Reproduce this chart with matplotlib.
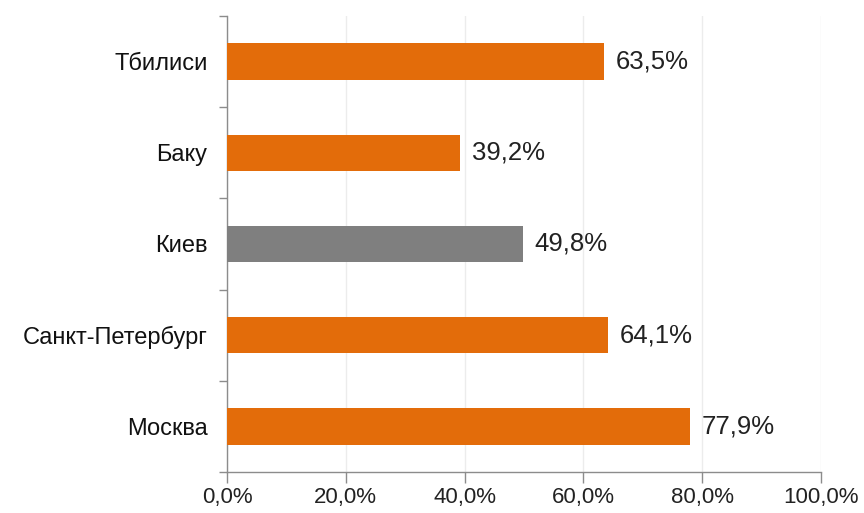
import matplotlib.pyplot as plt
from matplotlib.ticker import FixedLocator

plt.rcParams['font.family'] = ['Liberation Sans', 'DejaVu Sans']

cities = ["Москва", "Санкт-Петербург", "Киев", "Баку", "Тбилиси"]
shares = [77.9, 64.1, 49.8, 39.2, 63.5]
colors = ["#E36C0A", "#E36C0A", "#7F7F7F", "#E36C0A", "#E36C0A"]
xticks = [0, 20, 40, 60, 80, 100]

fig = plt.figure(figsize=(8.64, 5.13), dpi=100)
ax = fig.add_axes([227 / 864, 41 / 513, 594 / 864, 456 / 513])

ypos = list(range(len(cities)))
ax.barh(ypos, shares, height=0.4, color=colors, zorder=3)

for y, v in zip(ypos, shares):
    ax.text(v + 2.0, y, f"{v:.1f}%".replace(".", ","), va="center", ha="left",
            fontsize=18.5, color="#222222", zorder=4)

ax.set_xlim(0, 100)
ax.set_ylim(-0.5, len(cities) - 0.5)

ax.set_xticks(xticks)
ax.set_xticklabels([f"{t:.1f}%".replace(".", ",") for t in xticks], fontsize=16, color="#222222")
ax.tick_params(axis="x", direction="out", length=8, width=1, color="#8c8c8c", pad=3)

ax.set_yticks(ypos)
ax.set_yticklabels(cities, fontsize=17, color="#111111")
ax.tick_params(axis="y", which="major", length=0, pad=14)
ax.yaxis.set_minor_locator(FixedLocator([i - 0.5 for i in range(len(cities) + 1)]))
ax.tick_params(axis="y", which="minor", direction="out", length=6, width=1, color="#8c8c8c")

ax.grid(axis="x", color="#ececec", linewidth=1, zorder=0)
for side in ["top", "right"]:
    ax.spines[side].set_visible(False)
for side in ["left", "bottom"]:
    ax.spines[side].set_color("#8c8c8c")
    ax.spines[side].set_linewidth(1)

fig.savefig("out.png", dpi=100)
